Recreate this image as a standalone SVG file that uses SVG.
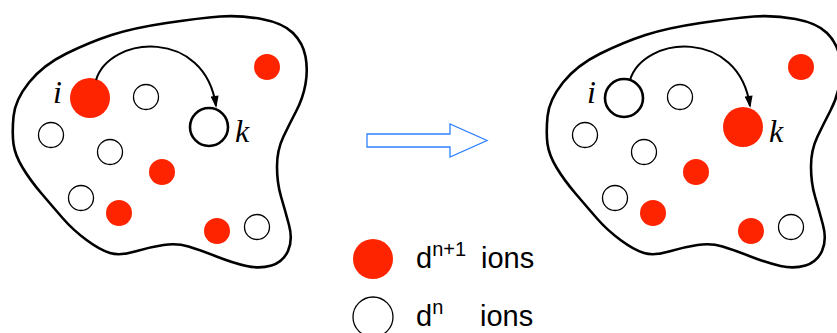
<svg xmlns="http://www.w3.org/2000/svg" xmlns:xlink="http://www.w3.org/1999/xlink" width="837" height="333" viewBox="0 0 837 333">
<style>
.blob{fill:none;stroke:#000;stroke-width:2.6}
.red{fill:#ff2400}
.open{fill:#fff;stroke:#000;stroke-width:1.3}
.bigopen{fill:#fff;stroke:#000;stroke-width:2.6}
.hop{fill:none;stroke:#000;stroke-width:2}
.lab{font-family:"Liberation Serif","Times New Roman",serif;font-style:italic;font-size:32px;fill:#000}
.leg{font-family:"Liberation Sans",Arial,sans-serif;font-size:29px;fill:#000}
.sup{font-size:20px}
</style>
<defs>
<path id="blobshape" d="M 13.5,116.5 Q 15,100 29,82.5 Q 43,65 66.5,53.5 Q 90,42 111.5,35 Q 133,28 166.5,23 Q 200,18 220,16.5 Q 240,15 261.5,19 Q 283,23 293,33 Q 303,43 305.5,56.5 Q 308,70 305.5,84 Q 303,98 296.5,110.5 Q 290,123 283.5,136.5 Q 277,150 277,166.5 Q 277,183 281,196.5 Q 285,210 289,225 Q 293,240 288,251 Q 283,262 271.5,265.5 Q 260,269 246.5,266 Q 233,263 216.5,256.5 Q 200,250 188.5,246.5 Q 177,243 163.5,245 Q 150,247 135,251.5 Q 120,256 110,253 Q 100,250 86.5,240 Q 73,230 63,218.5 Q 53,207 41.5,193.5 Q 30,180 22.5,167.5 Q 15,155 13.5,144 Q 12,133 13.5,116.5 Z"/>
<marker id="ah" markerUnits="userSpaceOnUse" viewBox="0 0 12 8" refX="10" refY="4" markerWidth="13" markerHeight="8" orient="auto">
<path d="M0,0 L12,4 L0,8 Z" fill="#000"/>
</marker>
</defs>

<g id="before">
<use xlink:href="#blobshape" class="blob"/>
<circle class="red" cx="90" cy="98" r="20"/>
<circle class="open" cx="146" cy="97" r="12.5"/>
<circle class="open" cx="51" cy="135" r="12.5"/>
<circle class="open" cx="110" cy="152" r="12.5"/>
<circle class="red" cx="162" cy="172" r="13"/>
<circle class="red" cx="267" cy="67" r="13"/>
<circle class="bigopen" cx="209" cy="127" r="19"/>
<circle class="open" cx="81" cy="198" r="12.5"/>
<circle class="red" cx="119" cy="213" r="13"/>
<circle class="red" cx="217" cy="231" r="13"/>
<circle class="open" cx="257" cy="227" r="12.5"/>
<text class="lab" x="53" y="103">i</text>
<text class="lab" x="235" y="142">k</text>
</g>

<g id="after">
<use xlink:href="#blobshape" class="blob" transform="translate(534,0)"/>
<circle class="bigopen" cx="624" cy="98" r="19"/>
<circle class="open" cx="680" cy="97" r="12.5"/>
<circle class="open" cx="585" cy="135" r="12.5"/>
<circle class="open" cx="644" cy="152" r="12.5"/>
<circle class="red" cx="696" cy="172" r="13"/>
<circle class="red" cx="801" cy="67" r="13"/>
<circle class="red" cx="743" cy="127" r="20"/>
<circle class="open" cx="615" cy="198" r="12.5"/>
<circle class="red" cx="653" cy="213" r="13"/>
<circle class="red" cx="751" cy="231" r="13"/>
<circle class="open" cx="791" cy="227" r="12.5"/>
<text class="lab" x="587" y="103">i</text>
<text class="lab" x="769" y="142">k</text>
</g>

<g id="transition">
<polygon points="367,134 450,134 450,124 487,140.5 450,157 450,147 367,147" fill="#fff" stroke="#2f80ff" stroke-width="1.3"/>
</g>

<g id="legend">
<circle class="red" cx="373" cy="259" r="20"/>
<circle class="open" cx="373" cy="317" r="20"/>
<text class="leg" x="416" y="268">d<tspan class="sup" dy="-12">n+1</tspan><tspan x="481" dy="12">ions</tspan></text>
<text class="leg" x="416" y="326">d<tspan class="sup" dy="-12">n</tspan><tspan x="480" dy="12">ions</tspan></text>
</g>

<g id="connectors">
<path class="hop" d="M 96,80 C 110,35 205,28 216,106" marker-end="url(#ah)"/>
<path class="hop" d="M 630,80 C 644,35 739,28 750,106" marker-end="url(#ah)"/>
</g>
</svg>
